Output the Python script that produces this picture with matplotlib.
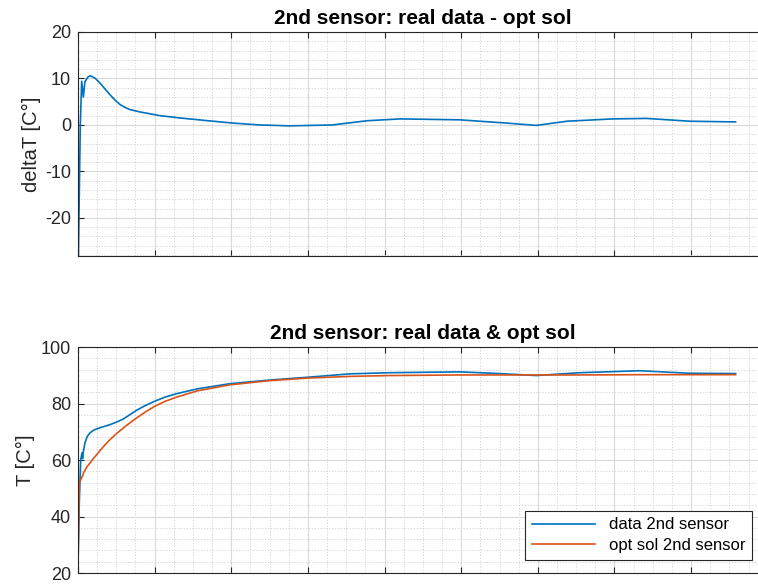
"""Second sensor: measured data vs optimal solution (two stacked panels)."""

import matplotlib

matplotlib.use("Agg")

import matplotlib.pyplot as plt
from matplotlib.ticker import MultipleLocator, NullFormatter

# x is given in units of one major x tick (the original hides the tick labels)
delta_t = [0.0, 0.005, 0.03, 0.048, 0.07, 0.09, 0.13, 0.16, 0.22, 0.287,
           0.35, 0.417, 0.48, 0.548, 0.61, 0.678, 0.808, 1.069, 1.33, 1.7,
           2.02, 2.37, 2.76, 3.32, 3.77, 4.2, 4.98, 5.59, 5.98, 6.38,
           6.98, 7.42, 7.98, 8.58]
delta_values = [0.0, -28.5, 0.0, 9.4, 6.0, 9.3, 10.3, 10.6, 10.1, 9.0,
                7.8, 6.5, 5.4, 4.4, 3.8, 3.3, 2.8, 2.0, 1.5, 0.9,
                0.4, 0.0, -0.2, 0.0, 0.9, 1.3, 1.1, 0.4, -0.1, 0.8,
                1.3, 1.4, 0.8, 0.65]

temp_t = [0.0, 0.017, 0.035, 0.052, 0.06, 0.07, 0.09, 0.12, 0.156, 0.2,
          0.244, 0.33, 0.417, 0.5, 0.59, 0.68, 0.765, 0.88, 1.0, 1.14,
          1.29, 1.56, 1.98, 2.5, 3.0, 3.55, 4.07, 4.98, 5.5, 5.98,
          6.55, 7.33, 7.98, 8.58]
temp_data = [23.5, 45.0, 60.0, 62.5, 60.5, 63.0, 66.0, 68.3, 69.6, 70.5,
             71.0, 71.8, 72.5, 73.4, 74.5, 76.1, 77.6, 79.3, 80.8, 82.3,
             83.5, 85.2, 87.0, 88.3, 89.3, 90.5, 90.9, 91.2, 90.6, 89.9,
             90.9, 91.6, 90.7, 90.6]
temp_opt = [22.5, 51.9, 53.0, 54.0, 54.3, 55.4, 56.3, 57.7, 58.9, 60.5,
            61.9, 64.7, 67.2, 69.3, 71.3, 73.2, 74.9, 77.0, 79.0, 80.8,
            82.3, 84.5, 86.6, 88.1, 89.0, 89.6, 89.9, 90.1, 90.1, 90.1,
            90.1, 90.2, 90.2, 90.2]

legend_labels = ["data 2nd sensor", "opt sol 2nd sensor"]

BLUE = "#0072BD"
ORANGE = "#D95319"
AXIS_GRAY = "#262626"

plt.rcParams["font.family"] = ["Liberation Sans", "DejaVu Sans"]
plt.rcParams["axes.unicode_minus"] = False


def style_axes(ax, ylim, major, minor):
    ax.set_xlim(0, 9)
    ax.set_ylim(*ylim)
    ax.xaxis.set_major_locator(MultipleLocator(1))
    ax.xaxis.set_minor_locator(MultipleLocator(0.25))
    ax.xaxis.set_major_formatter(NullFormatter())
    ax.yaxis.set_major_locator(MultipleLocator(major))
    ax.yaxis.set_minor_locator(MultipleLocator(minor))
    ax.grid(which="major", color="#d9d9d9", linewidth=0.8, linestyle="-")
    ax.grid(which="minor", color="#cfcfcf", linewidth=0.6, linestyle=(0, (1.5, 2)))
    ax.set_axisbelow(True)
    ax.tick_params(which="major", direction="in", length=4.5, width=0.8,
                   top=True, right=True, colors=AXIS_GRAY, labelsize=13, pad=5)
    ax.tick_params(which="minor", length=0)
    for spine in ax.spines.values():
        spine.set_color(AXIS_GRAY)
        spine.set_linewidth(0.8)


fig = plt.figure(figsize=(7.58, 5.87), dpi=100)

ax_top = fig.add_axes([0.1029, 0.5639, 0.910, 0.3816])
ax_top.plot(delta_t, delta_values, color=BLUE, linewidth=1.2)
style_axes(ax_top, (-28.2, 20), 10, 2)
ax_top.set_ylabel("deltaT [C°]", fontsize=14.5, color=AXIS_GRAY, labelpad=3)
ax_top.set_title("2nd sensor: real data - opt sol", fontsize=15, fontweight="bold",
                 color="black", pad=6)

ax_bot = fig.add_axes([0.1029, 0.02385, 0.910, 0.385])
ax_bot.plot(temp_t, temp_data, color=BLUE, linewidth=1.2, label=legend_labels[0])
ax_bot.plot(temp_t, temp_opt, color=ORANGE, linewidth=1.2, label=legend_labels[1])
style_axes(ax_bot, (20, 100), 20, 4)
ax_bot.set_ylabel("T [C°]", fontsize=14.5, color=AXIS_GRAY, labelpad=4)
ax_bot.set_title("2nd sensor: real data & opt sol", fontsize=15, fontweight="bold",
                 color="black", pad=6)

leg = ax_bot.legend(loc="lower right", bbox_to_anchor=(0.9917, 0.046),
                    bbox_transform=fig.transFigure, borderaxespad=0,
                    fontsize=12, handlelength=3.8, labelspacing=0.35,
                    fancybox=False, framealpha=1, edgecolor=AXIS_GRAY)
leg.get_frame().set_linewidth(0.8)

fig.savefig("out.png", dpi=100)
